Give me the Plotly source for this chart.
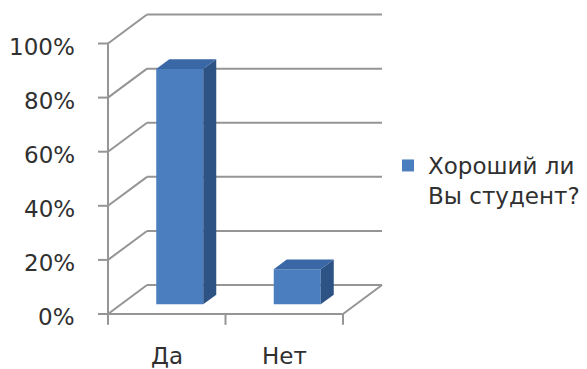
import plotly.graph_objects as go

# Survey results: "Хороший ли Вы студент?"
categories = ["Да", "Нет"]
values = [87, 13]
y_ticks = [0, 20, 40, 60, 80, 100]
y_tick_labels = ["0%", "20%", "40%", "60%", "80%", "100%"]
series_name = "Хороший ли<br>Вы студент?"

# oblique projection of the depth axis (in category units / percent units)
DX = 0.332
DY = 10.7
BAR_W = 0.4

FONT = "DejaVu Sans"
TXT = "#303030"
GRID = "#959595"
FRONT = "#4a7ebf"
SIDE = "#2d5284"
TOP = "#3a67a6"

fig = go.Figure()
shapes = []


def line(xs, ys, color=GRID, width=2):
    # axis / grid lines live below every trace
    shapes.append(dict(type="line", xref="x", yref="y", layer="below",
                       x0=xs[0], y0=ys[0], x1=xs[1], y1=ys[1],
                       line=dict(color=color, width=width)))


n = len(categories)
# side wall diagonals and back wall gridlines
for t in y_ticks:
    line([0, DX], [t, t + DY])
    line([DX, n + DX], [t + DY, t + DY])
    line([-0.085, 0], [t, t])
# floor edges
line([0, n], [0, 0])
line([n, n + DX], [0, DY])
# front value axis, extended below the floor as the first category tick
line([0, 0], [-4, 100])
for i in range(1, n + 1):
    line([i, i], [0, -4])

# bars: front face as bar trace, top and side faces as polygons
for i, v in enumerate(values):
    cx = i + 0.5 + DX / 3
    x0, x1 = cx - BAR_W / 2, cx + BAR_W / 2
    base = DY / 3
    top = base + v
    fig.add_trace(go.Scatter(
        x=[x1, x1, x1 + DX / 3, x1 + DX / 3, x1],
        y=[base, top, top + DY / 3, base + DY / 3, base],
        mode="lines", fill="toself", fillcolor=SIDE,
        line=dict(width=0, color=SIDE), showlegend=False, hoverinfo="skip"))
    fig.add_trace(go.Scatter(
        x=[x0, x1, x1 + DX / 3, x0 + DX / 3, x0],
        y=[top, top, top + DY / 3, top + DY / 3, top],
        mode="lines", fill="toself", fillcolor=TOP,
        line=dict(width=0, color=TOP), showlegend=False, hoverinfo="skip"))

fig.add_trace(go.Bar(
    x=[i + 0.5 + DX / 3 for i in range(n)],
    y=values,
    base=[DY / 3] * n,
    width=BAR_W,
    marker=dict(color=FRONT, line=dict(width=0)),
    name=series_name,
    showlegend=True,
))

annotations = []
for t, lab in zip(y_ticks, y_tick_labels):
    annotations.append(dict(x=-0.264, y=t, xref="x", yref="y", text=lab,
                            showarrow=False, xanchor="right", yanchor="middle",
                            yshift=-3, font=dict(family=FONT, size=23, color=TXT)))
for i, c in enumerate(categories):
    annotations.append(dict(x=i + 0.5, y=-15.5, xref="x", yref="y", text=c,
                            showarrow=False, xanchor="center", yanchor="middle",
                            font=dict(family=FONT, size=23, color=TXT)))

fig.update_layout(
    width=587, height=369,
    margin=dict(l=0, r=0, t=0, b=0),
    paper_bgcolor="white", plot_bgcolor="white",
    xaxis=dict(range=[-0.9191, 4.0766], visible=False, fixedrange=True),
    yaxis=dict(range=[-20.33, 116.08], visible=False, fixedrange=True),
    annotations=annotations,
    shapes=shapes,
    showlegend=True,
    legend=dict(x=388 / 587, y=(369 - 144) / 369, xanchor="left", yanchor="top",
                valign="top", bgcolor="rgba(0,0,0,0)", borderwidth=0,
                font=dict(family=FONT, size=23, color=TXT)),
    barmode="overlay",
)

fig.write_html("out.html")
